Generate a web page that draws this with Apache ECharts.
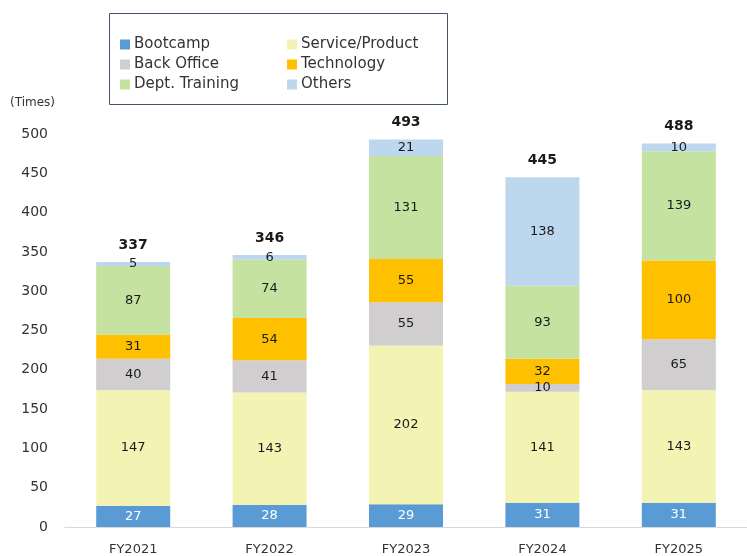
<!DOCTYPE html>
<html><head><meta charset="utf-8">
<script src="https://cdn.jsdelivr.net/npm/echarts@6/dist/echarts.min.js"></script>
<style>html,body{margin:0;padding:0;background:#fff}#c{width:747px;height:556px}</style>
</head><body><div id="c"></div>
<script>
const categories = ['FY2021','FY2022','FY2023','FY2024','FY2025'];
const bootcamp = [27, 28, 29, 31, 31];
const serviceProduct = [147, 143, 202, 141, 143];
const backOffice = [40, 41, 55, 10, 65];
const technology = [31, 54, 55, 32, 100];
const deptTraining = [87, 74, 131, 93, 139];
const others = [5, 6, 21, 138, 10];
const totals = [337, 346, 493, 445, 488];
const yTicks = [0, 50, 100, 150, 200, 250, 300, 350, 400, 450, 500];

const FONT = 'DejaVu Sans';
const chart = echarts.init(document.getElementById('c'));
function seg(name, data, color, labelColor) {
  return {
    name, type: 'bar', stack: 'all', data, barWidth: 74,
    itemStyle: { color },
    label: { show: true, position: 'inside', color: labelColor || '#1a1a1a', fontSize: 13, fontFamily: FONT },
    emphasis: { disabled: true }
  };
}
const legendText = { fontSize: 15, color: '#333', fontFamily: FONT, lineHeight: 15, padding: [0, 0, 0, -1] };
chart.setOption({
  animation: false,
  textStyle: { fontFamily: FONT },
  grid: { left: 65, top: 134, width: 695, bottom: 29, containLabel: false },
  graphic: [
    { type: 'rect', left: 107, top: 11, shape: { width: 338, height: 91 },
      style: { fill: 'none', stroke: '#44546a', lineWidth: 1 } },
    { type: 'text', left: 10, top: 97, style: { text: '(Times)', font: '12px "DejaVu Sans"', fill: '#333' } }
  ],
  legend: [
    { data: ['Bootcamp', 'Back Office', 'Dept. Training'], orient: 'vertical', left: 115, top: 32,
      itemWidth: 10, itemHeight: 10, itemGap: 5, icon: 'rect', textStyle: legendText },
    { data: ['Service/Product', 'Technology', 'Others'], orient: 'vertical', left: 282, top: 32,
      itemWidth: 10, itemHeight: 10, itemGap: 5, icon: 'rect', textStyle: legendText }
  ],
  xAxis: {
    type: 'category', data: categories,
    axisLine: { lineStyle: { color: '#d9d9d9', width: 1 } },
    axisTick: { show: false },
    axisLabel: { color: '#333', fontSize: 13, margin: 16, fontFamily: FONT }
  },
  yAxis: {
    type: 'value', min: 0, max: 500, interval: 50,
    splitLine: { show: false },
    axisLine: { show: false }, axisTick: { show: false },
    axisLabel: { color: '#333', fontSize: 14, margin: 17, fontFamily: FONT,
      formatter: v => yTicks.includes(v) ? String(v) : '' }
  },
  series: [
    seg('Bootcamp', bootcamp, '#5b9bd5', '#ffffff'),
    seg('Service/Product', serviceProduct, '#f3f4b4'),
    seg('Back Office', backOffice, '#d0cece'),
    seg('Technology', technology, '#ffc000'),
    seg('Dept. Training', deptTraining, '#c5e2a0'),
    seg('Others', others, '#bdd7ee'),
    { name: 'Total', type: 'bar', stack: 'all', data: totals.map(() => 0), barWidth: 74,
      itemStyle: { color: 'transparent' },
      label: { show: true, position: 'top', distance: 10, fontWeight: 'bold', fontSize: 14, color: '#1a1a1a',
        fontFamily: FONT, formatter: p => String(totals[p.dataIndex]) },
      emphasis: { disabled: true } }
  ]
});
</script></body></html>
